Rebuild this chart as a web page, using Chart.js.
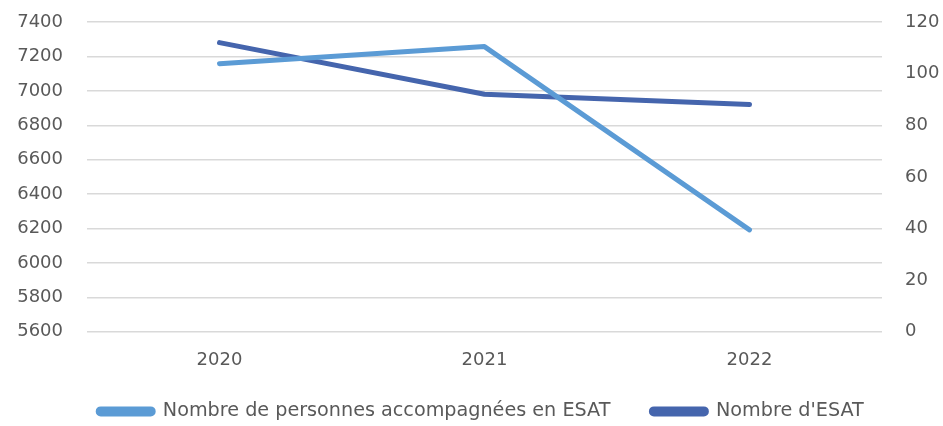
<!DOCTYPE html>
<html><head><meta charset="utf-8">
<script src="https://cdn.jsdelivr.net/npm/chart.js@4"></script>
<style>html,body{margin:0;padding:0;background:#fff}#wrap{width:943px;height:426px}</style>
</head><body><div id="wrap"><canvas id="c" width="943" height="426"></canvas></div>
<script>
const categories = ["2020", "2021", "2022"];
const personnes = [7158, 7257, 6192];
const nombreEsat = [112, 92, 88];
const leftTicks = [5600, 7400, 200];
const rightTicks = [0, 120, 20];
const seriesNames = ["Nombre de personnes accompagnées en ESAT", "Nombre d'ESAT"];

const FONT = "'DejaVu Sans', sans-serif";
const noPad = s => {
  s.paddingTop = 0; s.paddingBottom = 0; s.paddingLeft = 0; s.paddingRight = 0;
  s._computeLabelArea = () => undefined;
};
new Chart(document.getElementById('c'), {
  type: 'line',
  data: {
    labels: categories,
    datasets: [
      {label: seriesNames[0], data: personnes, yAxisID: 'y', borderColor: '#5B9BD5', backgroundColor: '#5B9BD5', borderWidth: 5, pointRadius: 0, tension: 0, borderCapStyle: 'round', borderJoinStyle: 'round'},
      {label: seriesNames[1], data: nombreEsat, yAxisID: 'y1', borderColor: '#4565AD', backgroundColor: '#4565AD', borderWidth: 5, pointRadius: 0, tension: 0, borderCapStyle: 'round', borderJoinStyle: 'round'}
    ]
  },
  options: {
    responsive: false, animation: false,
    layout: {padding: {left: 20, right: 1, top: 22, bottom: -5}},
    plugins: {
      tooltip: {enabled: false},
      legend: {position: 'bottom', labels: {boxWidth: 55, boxHeight: 5, padding: 41, useBorderRadius: true, borderRadius: 2.5, color: '#595959', font: {family: FONT, size: 19.2}}}
    },
    scales: {
      x: {offset: true, grid: {display: false, drawTicks: false}, border: {display: false},
          ticks: {color: '#595959', padding: 18, font: {family: FONT, size: 18}},
          afterFit: s => { noPad(s); s.height = 29; }},
      y: {position: 'left', min: leftTicks[0], max: leftTicks[1],
          ticks: {stepSize: leftTicks[2], color: '#595959', padding: 24, font: {family: FONT, size: 18}, callback: v => String(v)},
          grid: {color: '#D9D9D9', lineWidth: 1.5, drawTicks: false}, border: {display: false},
          afterFit: s => { noPad(s); s.width = 67; }},
      y1: {position: 'right', min: rightTicks[0], max: rightTicks[1],
          ticks: {stepSize: rightTicks[2], color: '#595959', padding: 23, font: {family: FONT, size: 18}, callback: v => String(v)},
          grid: {display: false, drawTicks: false}, border: {display: false},
          afterFit: s => { noPad(s); s.width = 60; }}
    }
  }
});
</script></body></html>
